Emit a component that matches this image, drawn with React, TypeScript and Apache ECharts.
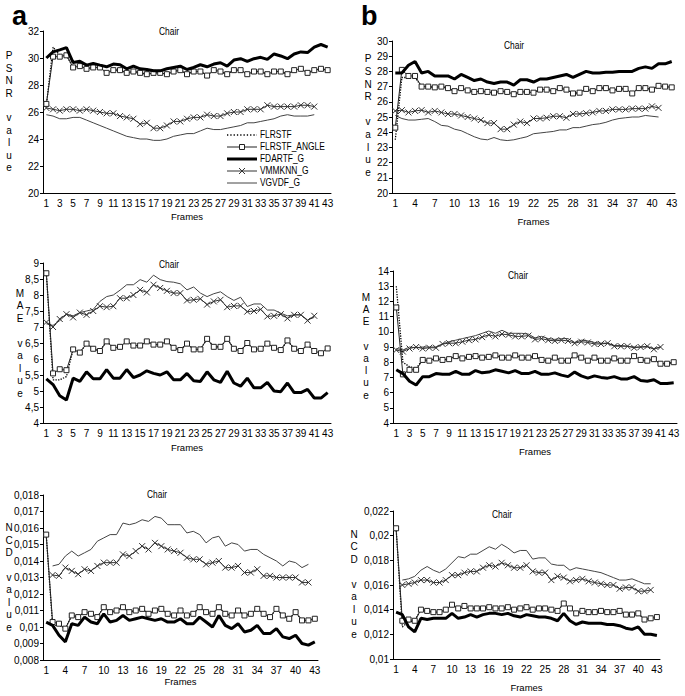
import React, { useEffect, useRef } from "react";
import * as echarts from "echarts";

const frames = ["1","2","3","4","5","6","7","8","9","10","11","12","13","14","15","16","17","18","19","20","21","22","23","24","25","26","27","28","29","30","31","32","33","34","35","36","37","38","39","40","41","42","43"];

const seriesNames = ["FLRSTF", "FLRSTF_ANGLE", "FDARTF_G", "VMMKNN_G", "VGVDF_G"];

// ---------- (a) PSNR ----------
const aPsnrFlrstf = [26.5, 30.8, 30.2, 30.2, 29.3, 29.4, 29.2, 29.3, 29.3, 28.9, 29.1, 29.1, 28.9, 29.0, 28.9, 28.8, 28.9, 28.9, 28.8, 29.0, 29.1, 28.8, 29.0, 29.0, 28.7, 29.1, 29.0, 28.8, 29.1, 29.1, 28.8, 29.0, 29.0, 28.8, 29.0, 29.0, 28.8, 29.1, 29.2, 28.9, 29.1, 29.2, 29.1];
const aPsnrAngle = [26.6, 30.1, 30.1, 30.2, 29.3, 29.4, 29.2, 29.3, 29.3, 28.9, 29.1, 29.1, 28.9, 29.0, 28.9, 28.8, 28.9, 28.9, 28.8, 29.0, 29.1, 28.8, 29.0, 29.0, 28.7, 29.1, 29.0, 28.8, 29.1, 29.1, 28.8, 29.0, 29.0, 28.8, 29.0, 29.0, 28.8, 29.1, 29.2, 28.9, 29.1, 29.2, 29.1];
const aPsnrFdartf = [30.0, 30.45, 30.6, 30.77, 29.66, 29.76, 29.47, 29.6, 29.47, 29.35, 29.55, 29.5, 29.2, 29.4, 29.2, 29.15, 29.05, 29.05, 29.2, 29.3, 29.4, 29.15, 29.3, 29.5, 29.35, 29.55, 29.65, 29.4, 29.85, 29.95, 29.75, 29.95, 30.05, 29.9, 30.3, 30.15, 29.95, 30.3, 30.45, 30.4, 30.8, 31.0, 30.8];
const aPsnrVmmknn = [26.3, 26.2, 26.1, 26.2, 26.2, 26.1, 26.2, 26.1, 26.0, 25.9, 25.9, 25.7, 25.6, 25.5, 25.1, 25.2, 24.8, 24.8, 25.0, 25.3, 25.3, 25.5, 25.6, 25.6, 25.8, 25.7, 25.7, 25.9, 26.0, 26.0, 26.2, 26.2, 26.2, 26.5, 26.4, 26.4, 26.4, 26.4, 26.5, 26.5, 26.4];
const aPsnrVgvdf = [25.8, 25.7, 25.5, 25.5, 25.6, 25.6, 25.4, 25.2, 25.0, 24.8, 24.6, 24.4, 24.2, 24.1, 24.0, 24.0, 23.9, 23.9, 24.0, 24.2, 24.3, 24.4, 24.4, 24.6, 24.8, 24.7, 24.7, 24.8, 24.9, 25.0, 25.2, 25.2, 25.3, 25.4, 25.5, 25.7, 25.8, 25.7, 25.7, 25.7, 25.8];

// ---------- (b) PSNR ----------
const bPsnrFlrstf = [23.5, 27.6, 27.6, 27.6, 27.0, 27.0, 26.95, 27.0, 26.9, 26.7, 26.9, 26.75, 26.65, 26.7, 26.65, 26.6, 26.7, 26.65, 26.5, 26.65, 26.65, 26.6, 26.8, 26.8, 26.7, 26.9, 26.8, 26.55, 26.6, 26.85, 26.7, 26.9, 26.9, 26.75, 26.85, 26.85, 26.55, 26.9, 26.9, 26.8, 27.05, 27.0, 26.95];
const bPsnrAngle = [24.3, 28.1, 27.7, 27.7, 27.0, 27.0, 26.95, 27.0, 26.9, 26.7, 26.9, 26.75, 26.65, 26.7, 26.65, 26.6, 26.7, 26.65, 26.5, 26.65, 26.65, 26.6, 26.8, 26.8, 26.7, 26.9, 26.8, 26.55, 26.6, 26.85, 26.7, 26.9, 26.9, 26.75, 26.85, 26.85, 26.55, 26.9, 26.9, 26.8, 27.05, 27.0, 26.95];
const bPsnrFdartf = [27.9, 27.9, 28.4, 28.65, 27.9, 28.0, 27.7, 27.7, 27.7, 27.5, 27.8, 27.6, 27.4, 27.5, 27.3, 27.2, 27.3, 27.3, 27.1, 27.45, 27.45, 27.3, 27.5, 27.5, 27.6, 27.7, 27.8, 27.6, 27.8, 28.0, 27.9, 27.9, 27.95, 27.95, 28.0, 28.0, 28.0, 28.2, 28.3, 28.2, 28.5, 28.5, 28.65];
const bPsnrVmmknn = [25.4, 25.45, 25.3, 25.4, 25.45, 25.3, 25.4, 25.3, 25.2, 25.2, 25.1, 25.0, 24.9, 24.8, 24.6, 24.6, 24.2, 24.2, 24.5, 24.7, 24.6, 24.9, 24.9, 24.95, 25.05, 25.05, 24.95, 25.2, 25.2, 25.25, 25.3, 25.4, 25.4, 25.5, 25.5, 25.5, 25.55, 25.55, 25.55, 25.7, 25.6];
const bPsnrVgvdf = [25.1, 24.9, 24.8, 24.8, 24.85, 24.9, 24.7, 24.45, 24.4, 24.2, 24.1, 23.9, 23.7, 23.55, 23.5, 23.65, 23.5, 23.45, 23.5, 23.6, 23.7, 23.9, 23.95, 24.0, 24.05, 24.15, 24.15, 24.3, 24.3, 24.4, 24.5, 24.55, 24.65, 24.8, 24.9, 24.95, 25.0, 25.0, 25.1, 25.05, 25.0];

// ---------- (a) MAE ----------
const aMaeFlrstf = [8.68, 5.35, 5.35, 5.45, 6.3, 6.2, 6.48, 6.32, 6.25, 6.55, 6.35, 6.38, 6.55, 6.42, 6.42, 6.55, 6.45, 6.45, 6.55, 6.35, 6.28, 6.48, 6.3, 6.3, 6.63, 6.38, 6.38, 6.63, 6.32, 6.25, 6.5, 6.3, 6.32, 6.48, 6.35, 6.28, 6.58, 6.32, 6.25, 6.45, 6.25, 6.18, 6.33];
const aMaeAngle = [8.68, 5.55, 5.68, 5.65, 6.3, 6.2, 6.48, 6.32, 6.25, 6.55, 6.35, 6.38, 6.55, 6.42, 6.42, 6.55, 6.45, 6.45, 6.55, 6.35, 6.28, 6.48, 6.3, 6.3, 6.63, 6.38, 6.38, 6.63, 6.32, 6.25, 6.5, 6.3, 6.32, 6.48, 6.35, 6.28, 6.58, 6.32, 6.25, 6.45, 6.25, 6.18, 6.33];
const aMaeFdartf = [5.38, 5.2, 4.85, 4.72, 5.4, 5.3, 5.6, 5.38, 5.38, 5.67, 5.4, 5.4, 5.67, 5.42, 5.5, 5.63, 5.55, 5.5, 5.6, 5.35, 5.35, 5.55, 5.32, 5.3, 5.6, 5.35, 5.27, 5.62, 5.25, 5.15, 5.4, 5.1, 5.1, 5.27, 5.0, 4.98, 5.25, 4.95, 4.95, 5.05, 4.78, 4.78, 4.95];
const aMaeVmmknn = [7.15, 7.0, 7.25, 7.4, 7.3, 7.45, 7.38, 7.5, 7.65, 7.62, 7.65, 7.9, 7.9, 8.0, 8.16, 8.08, 8.32, 8.22, 8.13, 8.06, 8.06, 7.83, 7.85, 7.88, 7.7, 7.8, 7.85, 7.62, 7.66, 7.66, 7.48, 7.5, 7.55, 7.33, 7.35, 7.4, 7.27, 7.38, 7.38, 7.2, 7.35];
const aMaeVgvdf = [7.1, 7.05, 7.2, 7.4, 7.35, 7.45, 7.5, 7.55, 7.8, 7.95, 8.0, 8.15, 8.32, 8.32, 8.48, 8.4, 8.62, 8.48, 8.42, 8.4, 8.35, 8.16, 8.25, 8.06, 7.95, 8.04, 8.1, 7.95, 7.83, 7.93, 7.64, 7.72, 7.72, 7.53, 7.53, 7.43, 7.35, 7.38, 7.38, 7.22, 7.3];

// ---------- (b) MAE ----------
const bMaeFlrstf = [13.0, 8.0, 7.7, 7.6, 8.15, 8.1, 8.25, 8.15, 8.2, 8.4, 8.25, 8.35, 8.4, 8.3, 8.35, 8.45, 8.3, 8.3, 8.45, 8.3, 8.3, 8.4, 8.15, 8.1, 8.3, 8.1, 8.1, 8.45, 8.3, 8.1, 8.3, 8.1, 8.1, 8.25, 8.1, 8.1, 8.4, 8.15, 8.1, 8.2, 7.9, 7.9, 8.0];
const bMaeAngle = [11.6, 7.2, 7.5, 7.5, 8.15, 8.1, 8.25, 8.15, 8.2, 8.4, 8.25, 8.35, 8.4, 8.3, 8.35, 8.45, 8.3, 8.3, 8.45, 8.3, 8.3, 8.4, 8.15, 8.1, 8.3, 8.1, 8.1, 8.45, 8.3, 8.1, 8.3, 8.1, 8.1, 8.25, 8.1, 8.1, 8.4, 8.15, 8.1, 8.2, 7.9, 7.9, 8.0];
const bMaeFdartf = [7.5, 7.25, 6.75, 6.5, 7.05, 7.05, 7.25, 7.2, 7.2, 7.4, 7.2, 7.2, 7.45, 7.3, 7.35, 7.5, 7.4, 7.3, 7.45, 7.25, 7.25, 7.4, 7.2, 7.2, 7.3, 7.15, 7.05, 7.35, 7.1, 6.95, 7.1, 7.0, 6.95, 7.05, 6.9, 6.9, 7.05, 6.8, 6.75, 6.85, 6.6, 6.6, 6.65];
const bMaeVmmknn = [8.8, 8.7, 8.9, 9.0, 8.9, 8.95, 8.95, 9.2, 9.25, 9.25, 9.35, 9.45, 9.5, 9.65, 9.8, 9.7, 9.85, 9.8, 9.7, 9.7, 9.75, 9.5, 9.55, 9.45, 9.4, 9.45, 9.4, 9.25, 9.35, 9.3, 9.2, 9.2, 9.25, 9.05, 9.05, 9.05, 8.95, 9.0, 9.05, 8.85, 9.0];
const bMaeVgvdf = [8.9, 8.8, 9.0, 8.95, 9.0, 9.0, 9.0, 9.2, 9.35, 9.45, 9.55, 9.65, 9.75, 9.9, 10.05, 9.9, 10.1, 9.9, 9.9, 9.9, 9.85, 9.6, 9.7, 9.55, 9.5, 9.55, 9.55, 9.3, 9.45, 9.4, 9.3, 9.25, 9.25, 9.1, 9.1, 9.05, 9.0, 9.0, 9.0, 8.9, 9.0];

// ---------- (a) NCD ----------
const aNcdFlrstf = [0.0156, 0.0101, 0.0101, 0.0099, 0.0107, 0.0106, 0.0109, 0.0108, 0.0106, 0.0112, 0.0109, 0.011, 0.0112, 0.0109, 0.011, 0.0111, 0.0108, 0.011, 0.0111, 0.0108, 0.0107, 0.011, 0.0107, 0.0108, 0.0112, 0.0109, 0.0108, 0.0112, 0.0108, 0.0107, 0.011, 0.0107, 0.0108, 0.0111, 0.0108, 0.0106, 0.0111, 0.0107, 0.0105, 0.0109, 0.0104, 0.0104, 0.0105];
const aNcdAngle = [0.0156, 0.0103, 0.0102, 0.0099, 0.0107, 0.0106, 0.0109, 0.0108, 0.0106, 0.0112, 0.0109, 0.011, 0.0112, 0.0109, 0.011, 0.0111, 0.0108, 0.011, 0.0111, 0.0108, 0.0107, 0.011, 0.0107, 0.0108, 0.0112, 0.0109, 0.0108, 0.0112, 0.0108, 0.0107, 0.011, 0.0107, 0.0108, 0.0111, 0.0108, 0.0106, 0.0111, 0.0107, 0.0105, 0.0109, 0.0104, 0.0104, 0.0105];
const aNcdFdartf = [0.0103, 0.0101, 0.0095, 0.0091, 0.0102, 0.0101, 0.0106, 0.0103, 0.0102, 0.0108, 0.0103, 0.0104, 0.0107, 0.0104, 0.0105, 0.0106, 0.0105, 0.0104, 0.0105, 0.0103, 0.0103, 0.0105, 0.0102, 0.0102, 0.0106, 0.0103, 0.01, 0.0107, 0.0101, 0.0099, 0.0102, 0.0097, 0.0098, 0.0101, 0.0096, 0.0096, 0.0099, 0.0094, 0.0093, 0.0095, 0.009, 0.0089, 0.0091];
const aNcdVmmknn = [null, 0.01315, 0.0131, 0.0136, 0.0134, 0.0132, 0.0135, 0.0134, 0.0137, 0.0139, 0.0139, 0.0139, 0.0144, 0.0143, 0.0146, 0.0149, 0.0147, 0.0151, 0.0149, 0.0147, 0.0146, 0.0145, 0.0142, 0.0141, 0.0141, 0.0138, 0.0139, 0.014, 0.0136, 0.0136, 0.0137, 0.0133, 0.0133, 0.0135, 0.0131, 0.0131, 0.013, 0.013, 0.013, 0.013, 0.0127, 0.0127];
const aNcdVgvdf = [null, 0.0137, 0.0138, 0.0143, 0.0146, 0.0143, 0.0145, 0.0147, 0.0152, 0.0154, 0.0156, 0.0156, 0.0163, 0.0162, 0.0163, 0.0165, 0.0164, 0.0167, 0.0166, 0.0162, 0.0162, 0.0162, 0.0157, 0.0158, 0.0156, 0.0151, 0.0154, 0.0155, 0.0149, 0.0151, 0.015, 0.0146, 0.0147, 0.0147, 0.0144, 0.0142, 0.014, 0.0137, 0.014, 0.0139, 0.0136, 0.0138];

// ---------- (b) NCD ----------
const bNcdFlrstf = [0.0206, 0.0126, 0.013, 0.0131, 0.014, 0.0139, 0.0138, 0.0138, 0.014, 0.0144, 0.0141, 0.0143, 0.0141, 0.0141, 0.0141, 0.0142, 0.0141, 0.0141, 0.0142, 0.014, 0.0141, 0.0142, 0.014, 0.0141, 0.0141, 0.014, 0.0139, 0.0145, 0.0141, 0.0137, 0.0139, 0.0138, 0.0138, 0.0139, 0.0138, 0.0138, 0.0139, 0.0136, 0.0136, 0.0137, 0.0132, 0.0133, 0.0134];
const bNcdAngle = [0.0206, 0.0131, 0.0132, 0.0131, 0.014, 0.0139, 0.0138, 0.0138, 0.014, 0.0144, 0.0141, 0.0143, 0.0141, 0.0141, 0.0141, 0.0142, 0.0141, 0.0141, 0.0142, 0.014, 0.0141, 0.0142, 0.014, 0.0141, 0.0141, 0.014, 0.0139, 0.0145, 0.0141, 0.0137, 0.0139, 0.0138, 0.0138, 0.0139, 0.0138, 0.0138, 0.0139, 0.0136, 0.0136, 0.0137, 0.0132, 0.0133, 0.0134];
const bNcdFdartf = [0.0138, 0.0136, 0.0126, 0.0122, 0.0133, 0.0132, 0.0133, 0.0133, 0.0133, 0.0137, 0.0133, 0.0134, 0.0136, 0.0134, 0.0136, 0.0137, 0.0137, 0.0136, 0.0137, 0.0135, 0.0134, 0.0136, 0.0135, 0.0134, 0.0134, 0.0133, 0.0131, 0.0137, 0.0131, 0.0128, 0.013, 0.0129, 0.0129, 0.0129, 0.0128, 0.0128, 0.0127, 0.0125, 0.0124, 0.0126, 0.012, 0.012, 0.0119];
const bNcdVmmknn = [null, 0.016, 0.0161, 0.0162, 0.0164, 0.0164, 0.0162, 0.0162, 0.0164, 0.0168, 0.0168, 0.017, 0.0171, 0.0171, 0.0174, 0.0176, 0.0175, 0.0178, 0.0176, 0.0174, 0.0174, 0.0176, 0.0171, 0.017, 0.017, 0.0164, 0.0167, 0.0166, 0.0163, 0.0164, 0.0165, 0.0163, 0.0162, 0.0161, 0.016, 0.016, 0.0157, 0.0158, 0.0158, 0.0155, 0.0155, 0.0156];
const bNcdVgvdf = [null, 0.0164, 0.0165, 0.0167, 0.0172, 0.0175, 0.0172, 0.017, 0.0173, 0.0178, 0.0183, 0.0182, 0.0185, 0.0185, 0.0188, 0.0191, 0.0189, 0.0193, 0.019, 0.0186, 0.0188, 0.0188, 0.0181, 0.0182, 0.0182, 0.0177, 0.0176, 0.0176, 0.0172, 0.0174, 0.0173, 0.0172, 0.0171, 0.017, 0.0168, 0.0166, 0.0164, 0.0164, 0.0165, 0.0163, 0.0161, 0.0161];

// y-axis titles (stacked letters) and panel titles
const psnrTitle = "P\nS\nN\nR\n\nv\na\nl\nu\ne";
const maeTitle = "M\nA\nE\n\nv\na\nl\nu\ne";
const ncdTitle = "N\nC\nD\n\nv\na\nl\nu\ne";
const chartTitle = "Chair";
const xTitle = "Frames";

const panelData = [
  [aPsnrFlrstf, aPsnrAngle, aPsnrFdartf, aPsnrVmmknn, aPsnrVgvdf],
  [bPsnrFlrstf, bPsnrAngle, bPsnrFdartf, bPsnrVmmknn, bPsnrVgvdf],
  [aMaeFlrstf, aMaeAngle, aMaeFdartf, aMaeVmmknn, aMaeVgvdf],
  [bMaeFlrstf, bMaeAngle, bMaeFdartf, bMaeVmmknn, bMaeVgvdf],
  [aNcdFlrstf, aNcdAngle, aNcdFdartf, aNcdVmmknn, aNcdVgvdf],
  [bNcdFlrstf, bNcdAngle, bNcdFdartf, bNcdVmmknn, bNcdVgvdf],
];

const FONT = "'Liberation Sans', Arial, sans-serif";
const NARROW_SCALE = 0.84;

const layouts = [
  { grid: { left: 43, top: 31, width: 288, height: 162 }, y: [20, 32, 2], labInt: 1, nameGap: 18, title: [169, 32], yTitle: psnrTitle, yt: [9, 49.8, 12.4] },
  { grid: { left: 392, top: 41, width: 283, height: 152 }, y: [20, 30, 1], labInt: 2, nameGap: 23, title: [514, 46], yTitle: psnrTitle, yt: [368, 52.7, 12.6] },
  { grid: { left: 43, top: 263, width: 288, height: 160 }, y: [4, 9, 0.5], labInt: 1, nameGap: 19, title: [169, 265], yTitle: maeTitle, yt: [20, 286.8, 12.5] },
  { grid: { left: 393, top: 271, width: 284, height: 152 }, y: [4, 14, 1], labInt: 1, nameGap: 23, title: [518, 276], yTitle: maeTitle, yt: [366, 290.9, 12.25] },
  { grid: { left: 43, top: 495, width: 275, height: 165 }, y: [0.008, 0.018, 0.001], labInt: 2, nameGap: 16, title: [157, 495], yTitle: ncdTitle, yt: [9, 521.8, 12.4] },
  { grid: { left: 393, top: 511, width: 267, height: 148 }, y: [0.01, 0.022, 0.002], labInt: 2, nameGap: 23, title: [502, 515], yTitle: ncdTitle, yt: [354, 527.8, 12.5] },
];

// legend box placement (panel a, PSNR)
const legendBox = { lineX1: 227, lineX2: 257, textX: 260, firstY: 135, rowH: 12 };

const CROSS = "path://M0,0L10,10M10,0L0,10";

function styleFor(idx: number) {
  switch (idx) {
    case 0:
      return { symbol: "none", lineStyle: { type: "dotted", width: 1.3, color: "#000" }, itemStyle: { color: "#000" }, z: 3 };
    case 1:
      return { symbol: "rect", symbolSize: 5, showAllSymbol: true, lineStyle: { width: 1, color: "#222" }, itemStyle: { color: "#fff", borderColor: "#222", borderWidth: 1 }, z: 4 };
    case 2:
      return { symbol: "none", lineStyle: { width: 3, color: "#000" }, itemStyle: { color: "#000" }, z: 5 };
    case 3:
      return { symbol: CROSS, symbolSize: 6, showAllSymbol: true, lineStyle: { width: 1, color: "#333" }, itemStyle: { color: "#333", borderColor: "#333", borderWidth: 1 }, z: 2 };
    default:
      return { symbol: "none", lineStyle: { width: 1, color: "#444" }, itemStyle: { color: "#444" }, z: 1 };
  }
}

function legendItem(idx: number, y: number): any[] {
  const { lineX1, lineX2, textX } = legendBox;
  const cx = (lineX1 + lineX2) / 2;
  const els: any[] = [];
  const lineStyles: any[] = [
    { stroke: "#000", lineWidth: 1.3, lineDash: [1.3, 2] },
    { stroke: "#222", lineWidth: 1 },
    { stroke: "#000", lineWidth: 3 },
    { stroke: "#333", lineWidth: 1 },
    { stroke: "#444", lineWidth: 1 },
  ];
  els.push({ type: "line", shape: { x1: lineX1, y1: y, x2: lineX2, y2: y }, style: lineStyles[idx], silent: true });
  if (idx === 1) {
    els.push({ type: "rect", shape: { x: cx - 2.5, y: y - 2.5, width: 5, height: 5 }, style: { fill: "#fff", stroke: "#222", lineWidth: 1 }, silent: true });
  }
  if (idx === 3) {
    els.push({ type: "line", shape: { x1: cx - 3, y1: y - 3, x2: cx + 3, y2: y + 3 }, style: { stroke: "#333", lineWidth: 1 }, silent: true });
    els.push({ type: "line", shape: { x1: cx + 3, y1: y - 3, x2: cx - 3, y2: y + 3 }, style: { stroke: "#333", lineWidth: 1 }, silent: true });
  }
  els.push({
    type: "text",
    x: textX,
    y,
    scaleX: NARROW_SCALE,
    style: { text: seriesNames[idx], align: "left", verticalAlign: "middle", fontSize: 10, fontFamily: FONT, fill: "#000" },
    silent: true,
  });
  return els;
}

function fmt(v: number) {
  return String(Number(v.toFixed(4))).replace(".", ",");
}

export default function App() {
  const ref = useRef<HTMLDivElement>(null);
  useEffect(() => {
    if (!ref.current) return;
    const chart = echarts.init(ref.current, null, { renderer: "svg" });
    const grids: any[] = [];
    const xAxes: any[] = [];
    const yAxes: any[] = [];
    const series: any[] = [];
    const graphics: any[] = [];

    layouts.forEach((L, gi) => {
      grids.push({ ...L.grid, containLabel: false });
      xAxes.push({
        type: "category",
        gridIndex: gi,
        data: frames,
        boundaryGap: true,
        axisLine: { lineStyle: { color: "#000", width: 1 } },
        axisTick: { interval: 0, length: 3, lineStyle: { color: "#000" } },
        axisLabel: { interval: L.labInt, margin: 5, fontSize: 10, fontFamily: FONT, color: "#000" },
        splitLine: { show: false },
        name: xTitle,
        nameLocation: "middle",
        nameGap: L.nameGap,
        nameTextStyle: { fontFamily: FONT, fontSize: 9.5, color: "#000" },
      });
      yAxes.push({
        type: "value",
        gridIndex: gi,
        min: L.y[0],
        max: L.y[1],
        interval: L.y[2],
        splitLine: { show: false },
        axisLine: { show: true, lineStyle: { color: "#000", width: 1 } },
        axisTick: { show: true, length: 3, lineStyle: { color: "#000" } },
        axisLabel: { formatter: fmt, fontSize: 10, margin: 4, fontFamily: FONT, color: "#000" },
      });
      const order = [4, 3, 0, 1, 2];
      order.forEach((si) => {
        series.push({
          type: "line",
          name: seriesNames[si],
          xAxisIndex: gi,
          yAxisIndex: gi,
          data: panelData[gi][si],
          connectNulls: false,
          silent: true,
          ...styleFor(si),
        });
      });
      graphics.push({
        type: "text",
        x: L.title[0] - 10,
        y: L.title[1],
        scaleX: NARROW_SCALE,
        style: { text: chartTitle, align: "left", verticalAlign: "middle", fontSize: 10, fontFamily: FONT, fill: "#000" },
      });
      graphics.push({
        type: "text",
        x: L.yt[0],
        y: L.yt[1],
        style: { text: L.yTitle, align: "center", verticalAlign: "top", fontSize: 10, lineHeight: L.yt[2], fontFamily: FONT, fill: "#000" },
      });
    });

    seriesNames.forEach((_, i) => {
      legendItem(i, legendBox.firstY + i * legendBox.rowH).forEach((e) => graphics.push(e));
    });

    graphics.push({
      type: "text",
      x: 12,
      y: 16,
      style: { text: "a", align: "left", verticalAlign: "middle", fontSize: 27, lineHeight: 24, fontWeight: "bold", fontFamily: FONT, fill: "#000" },
    });
    graphics.push({
      type: "text",
      x: 361,
      y: 16,
      style: { text: "b", align: "left", verticalAlign: "middle", fontSize: 27, lineHeight: 24, fontWeight: "bold", fontFamily: FONT, fill: "#000" },
    });

    chart.setOption({
      animation: false,
      backgroundColor: "#fff",
      grid: grids,
      xAxis: xAxes,
      yAxis: yAxes,
      series,
      graphic: graphics,
    });
    return () => chart.dispose();
  }, []);
  return <div ref={ref} style={{ position: "fixed", left: 0, top: 0, width: 685, height: 696, background: "#fff" }} />;
}
